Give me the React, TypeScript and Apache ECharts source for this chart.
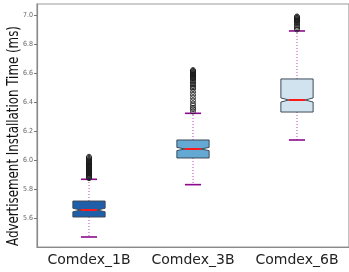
import React, { useEffect, useRef } from "react";
import * as echarts from "echarts";

const categories = ["Comdex_1B", "Comdex_3B", "Comdex_6B"];
const whiskerLow = [5.469, 5.83, 6.138];
const q1 = [5.607, 6.014, 6.331];
const notchLow = [5.643, 6.065, 6.4];
const median = [5.655, 6.076, 6.414];
const notchHigh = [5.667, 6.087, 6.428];
const q3 = [5.717, 6.138, 6.559];
const whiskerHigh = [5.867, 6.322, 6.89];
const boxColors = ["#1f5ea8", "#64a8d4", "#d2e3f0"];

const outliers1B = [5.875, 5.88, 5.885, 5.89, 5.895, 5.9, 5.905, 5.91, 5.915, 5.92, 5.925, 5.93, 5.935, 5.94, 5.945, 5.95, 5.955, 5.96, 5.965, 5.97, 5.975, 5.98, 5.985, 5.99, 5.995, 6.0, 6.008, 6.015, 6.022];
const outliers3B = [6.335, 6.35, 6.36, 6.375, 6.39, 6.41, 6.43, 6.45, 6.47, 6.49, 6.5, 6.51, 6.52, 6.53, 6.54, 6.55, 6.56, 6.565, 6.57, 6.575, 6.58, 6.585, 6.59, 6.595, 6.6, 6.605, 6.61, 6.615, 6.62];
const outliers6B = [6.9, 6.91, 6.92, 6.93, 6.94, 6.95, 6.955, 6.96, 6.965, 6.97, 6.975, 6.98, 6.985, 6.99];

const yMin = 5.4;
const yMax = 7.076;
const yTicks = [5.6, 5.8, 6.0, 6.2, 6.4, 6.6, 6.8, 7.0];

export default function App() {
  const ref = useRef<HTMLDivElement>(null);
  useEffect(() => {
    const chart = echarts.init(ref.current!, null, { renderer: "svg" });
    const boxData = categories.map((_, i) => [i, whiskerLow[i], q1[i], notchLow[i], median[i], notchHigh[i], q3[i], whiskerHigh[i]]);
    const outlierData: number[][] = [];
    [outliers1B, outliers3B, outliers6B].forEach((arr, i) => arr.forEach((v) => outlierData.push([i, v])));

    chart.setOption({
      animation: false,
      grid: { left: 37, right: -3, top: 4, bottom: 25, show: true, borderColor: "#9a9a9a", borderWidth: 1.2, backgroundColor: "transparent" },
      xAxis: {
        type: "category",
        data: categories,
        axisLine: { lineStyle: { color: "#8a8a8a", width: 1.2 } },
        axisTick: { alignWithLabel: true, length: 4, lineStyle: { color: "#555" } },
        axisLabel: { interval: 0, fontFamily: "DejaVu Sans", fontSize: 14, color: "#222", margin: 5 },
      },
      yAxis: {
        type: "value",
        min: yMin,
        max: yMax,
        splitLine: { show: false },
        axisLine: { show: true, lineStyle: { color: "#8a8a8a", width: 1.2 } },
        axisTick: { show: true, length: 3, lineStyle: { color: "#777" }, customValues: yTicks },
        axisLabel: {
          fontFamily: "DejaVu Sans Condensed, DejaVu Sans",
          fontSize: 7,
          color: "#666",
          margin: 4,
          customValues: yTicks,
          formatter: (v: number) => v.toFixed(1),
        },
      },
      graphic: [
        {
          type: "text",
          x: 13,
          y: 136,
          rotation: Math.PI / 2,
          scaleX: 0.88,
          style: {
            text: "Advertisement Installation Time (ms)",
            fontFamily: "DejaVu Sans Condensed, DejaVu Sans",
            fontSize: 15,
            fill: "#111",
            textAlign: "center",
            textVerticalAlign: "middle",
          },
        },
      ],
      series: [
        {
          type: "custom",
          data: boxData,
          encode: { x: 0, y: [1, 2, 3, 4, 5, 6, 7] },
          renderItem: (params: any, api: any) => {
            const idx = api.value(0);
            const c = (v: number) => api.coord([idx, v]);
            const pLow = c(api.value(1));
            const pQ1 = c(api.value(2));
            const pNL = c(api.value(3));
            const pMed = c(api.value(4));
            const pNH = c(api.value(5));
            const pQ3 = c(api.value(6));
            const pHigh = c(api.value(7));
            const cx = pMed[0];
            const bw = api.size([1, 0])[0] * 0.31;
            const l = cx - bw / 2;
            const r = cx + bw / 2;
            const inset = bw * 0.25;
            const capHalf = bw / 4;
            const whiskerStyle = { stroke: "#c040c8", lineWidth: 1, lineDash: [1, 2] };
            const capStyle = { stroke: "#8b0a8b", lineWidth: 1.6 };
            return {
              type: "group",
              children: [
                { type: "line", shape: { x1: cx, y1: pQ1[1], x2: cx, y2: pLow[1] }, style: whiskerStyle },
                { type: "line", shape: { x1: cx, y1: pQ3[1], x2: cx, y2: pHigh[1] }, style: whiskerStyle },
                { type: "line", shape: { x1: cx - capHalf, y1: pLow[1], x2: cx + capHalf, y2: pLow[1] }, style: capStyle },
                { type: "line", shape: { x1: cx - capHalf, y1: pHigh[1], x2: cx + capHalf, y2: pHigh[1] }, style: capStyle },
                {
                  type: "polygon",
                  shape: {
                    points: [
                      [l, pQ1[1]],
                      [l, pNL[1]],
                      [l + inset, pMed[1]],
                      [l, pNH[1]],
                      [l, pQ3[1]],
                      [r, pQ3[1]],
                      [r, pNH[1]],
                      [r - inset, pMed[1]],
                      [r, pNL[1]],
                      [r, pQ1[1]],
                    ],
                  },
                  style: { fill: boxColors[idx], stroke: "#3f4a56", lineWidth: 1 },
                },
                { type: "line", shape: { x1: l + inset, y1: pMed[1], x2: r - inset, y2: pMed[1] }, style: { stroke: "#ff1a1a", lineWidth: 2 } },
              ],
            };
          },
          z: 2,
        },
        {
          type: "scatter",
          data: outlierData,
          symbol: "circle",
          symbolSize: 5,
          itemStyle: { color: "rgba(255,255,255,0)", borderColor: "#1a1a1a", borderWidth: 1, opacity: 0.9 },
          z: 3,
        },
      ],
    });
    return () => chart.dispose();
  }, []);
  return <div ref={ref} style={{ position: "fixed", left: 0, top: 0, width: 349, height: 272 }} />;
}
